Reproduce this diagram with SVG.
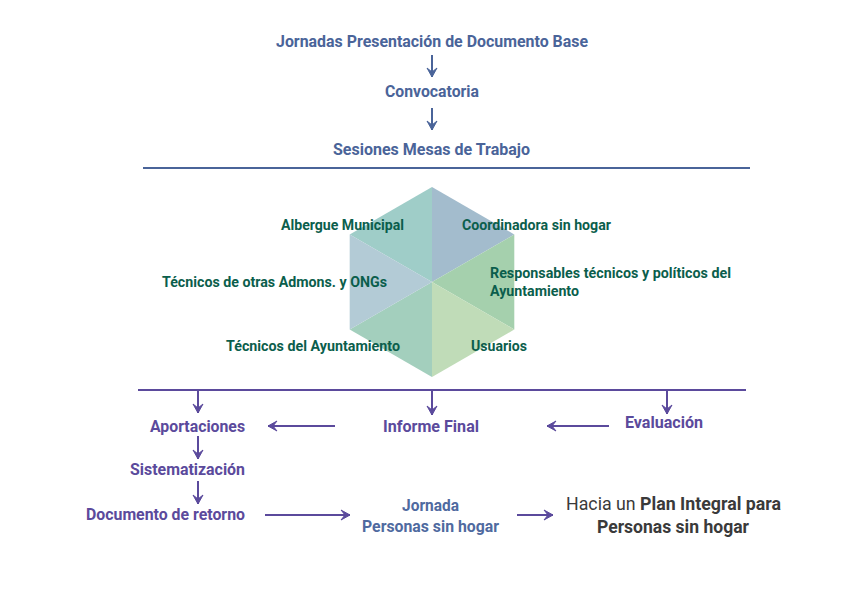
<svg xmlns="http://www.w3.org/2000/svg" width="842" height="595" viewBox="0 0 842 595">
<style>
text{font-family:Roboto,"Liberation Sans",sans-serif;font-weight:bold}
.b{fill:#4a6499;font-size:17px}
.g{fill:#0b5e4c;font-size:15px}
.p{fill:#5b4a9c;font-size:17px}
.bl{fill:#4f6aa0;font-size:17px}
.d{fill:#3a3a3a;font-size:19px}
.n{font-weight:normal}
.cb{stroke:#4a6499;stroke-width:2;fill:none}
.cp{stroke:#5b4a9c;stroke-width:2;fill:none}
</style>
<defs>
<marker id="ab" viewBox="-10 -6 12 12" markerWidth="12" markerHeight="12" refX="0" refY="0" orient="auto" markerUnits="userSpaceOnUse">
<path d="M0,0 L-9,-5 L-5,0 L-9,5 Z" fill="#4a6499" stroke="#4a6499" stroke-width="1" stroke-linejoin="round"/>
</marker>
<marker id="ap" viewBox="-10 -6 12 12" markerWidth="12" markerHeight="12" refX="0" refY="0" orient="auto" markerUnits="userSpaceOnUse">
<path d="M0,0 L-9,-5 L-5,0 L-9,5 Z" fill="#5b4a9c" stroke="#5b4a9c" stroke-width="1" stroke-linejoin="round"/>
</marker>
</defs>
<rect width="842" height="595" fill="#ffffff"/>
<g id="hexagon">
<polygon points="432,187 432,282 349.7,234.5" fill="#9fcdc8"/>
<polygon points="432,187 514.3,234.5 432,282" fill="#a3bccd"/>
<polygon points="514.3,234.5 514.3,329.5 432,282" fill="#a5d0ad"/>
<polygon points="514.3,329.5 432,377 432,282" fill="#c0dcb8"/>
<polygon points="432,377 349.7,329.5 432,282" fill="#a3cfbd"/>
<polygon points="349.7,329.5 349.7,234.5 432,282" fill="#b3cbd6"/>
</g>
<g id="connectors">
<line class="cb" x1="143" y1="168" x2="750" y2="168"/>
<line class="cp" x1="138" y1="390" x2="746" y2="390"/>
<line class="cb" x1="432" y1="55" x2="432" y2="77" marker-end="url(#ab)"/>
<line class="cb" x1="432" y1="108" x2="432" y2="130" marker-end="url(#ab)"/>
<line class="cp" x1="198" y1="391" x2="198" y2="413" marker-end="url(#ap)"/>
<line class="cp" x1="432" y1="391" x2="432" y2="415" marker-end="url(#ap)"/>
<line class="cp" x1="667" y1="391" x2="667" y2="414" marker-end="url(#ap)"/>
<line class="cp" x1="198" y1="436" x2="198" y2="459" marker-end="url(#ap)"/>
<line class="cp" x1="198" y1="481" x2="198" y2="504" marker-end="url(#ap)"/>
<line class="cp" x1="335" y1="426" x2="268" y2="426" marker-end="url(#ap)"/>
<line class="cp" x1="609" y1="426" x2="547" y2="426" marker-end="url(#ap)"/>
<line class="cp" x1="265" y1="515" x2="350" y2="515" marker-end="url(#ap)"/>
<line class="cp" x1="517" y1="515" x2="553" y2="515" marker-end="url(#ap)"/>
</g>
<g id="n-jornadas"><text class="b" x="276" y="47" textLength="312" lengthAdjust="spacingAndGlyphs">Jornadas Presentación de Documento Base</text></g>
<g id="n-convocatoria"><text class="b" x="385" y="97" textLength="94" lengthAdjust="spacingAndGlyphs">Convocatoria</text></g>
<g id="n-sesiones"><text class="b" x="333" y="155" textLength="197" lengthAdjust="spacingAndGlyphs">Sesiones Mesas de Trabajo</text></g>
<g id="n-albergue"><text class="g" x="281" y="230" textLength="123" lengthAdjust="spacingAndGlyphs">Albergue Municipal</text></g>
<g id="n-coordinadora"><text class="g" x="462" y="230" textLength="149" lengthAdjust="spacingAndGlyphs">Coordinadora sin hogar</text></g>
<g id="n-tecnicos-otras"><text class="g" x="162" y="287" textLength="225" lengthAdjust="spacingAndGlyphs">Técnicos de otras Admons. y ONGs</text></g>
<g id="n-responsables"><text class="g" x="490" y="278" textLength="241" lengthAdjust="spacingAndGlyphs">Responsables técnicos y políticos del</text><text class="g" x="490" y="296" textLength="89" lengthAdjust="spacingAndGlyphs">Ayuntamiento</text></g>
<g id="n-tecnicos-ayto"><text class="g" x="226" y="351" textLength="174" lengthAdjust="spacingAndGlyphs">Técnicos del Ayuntamiento</text></g>
<g id="n-usuarios"><text class="g" x="471" y="351" textLength="56" lengthAdjust="spacingAndGlyphs">Usuarios</text></g>
<g id="n-aportaciones"><text class="p" x="150" y="432" textLength="95" lengthAdjust="spacingAndGlyphs">Aportaciones</text></g>
<g id="n-informe"><text class="p" x="383" y="432" textLength="96" lengthAdjust="spacingAndGlyphs">Informe Final</text></g>
<g id="n-evaluacion"><text class="p" x="625" y="428" textLength="78" lengthAdjust="spacingAndGlyphs">Evaluación</text></g>
<g id="n-sistematizacion"><text class="p" x="130" y="475" textLength="115" lengthAdjust="spacingAndGlyphs">Sistematización</text></g>
<g id="n-documento"><text class="p" x="86" y="520" textLength="159" lengthAdjust="spacingAndGlyphs">Documento de retorno</text></g>
<g id="n-jornada-psh"><text class="bl" x="402" y="511" textLength="57" lengthAdjust="spacingAndGlyphs">Jornada</text><text class="bl" x="362" y="532" textLength="137" lengthAdjust="spacingAndGlyphs">Personas sin hogar</text></g>
<g id="n-plan"><text class="d" x="566" y="510" textLength="215" lengthAdjust="spacingAndGlyphs"><tspan class="n">Hacia un </tspan>Plan Integral para</text><text class="d" x="597" y="533" textLength="152" lengthAdjust="spacingAndGlyphs">Personas sin hogar</text></g>
</svg>
